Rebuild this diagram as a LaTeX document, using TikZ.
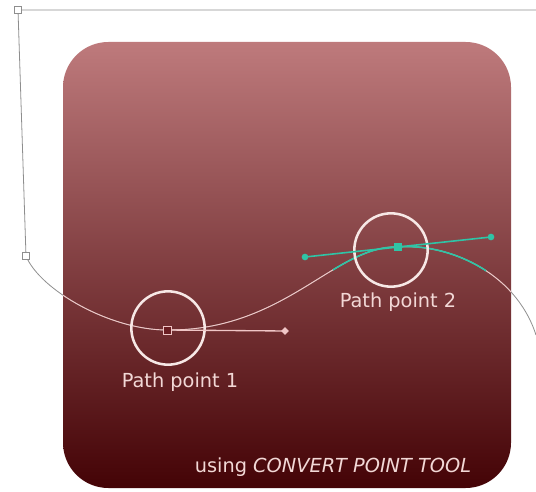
\documentclass[tikz,border=0pt]{standalone}
\usepackage{fontspec}
\setmainfont{DejaVu Sans}
\usepackage{tikz}
\definecolor{boxTop}{HTML}{BE7A7C}
\definecolor{boxBottom}{HTML}{440306}
\definecolor{pathGrey}{HTML}{8E8E8E}
\definecolor{pathPink}{HTML}{F0C6C6}
\definecolor{ringWhite}{HTML}{F7E8E6}
\definecolor{handleCyan}{HTML}{2FC4A6}
\definecolor{labelPink}{HTML}{F2D8D6}
\definecolor{holeRed}{HTML}{6A1E22}

\begin{document}
\begin{tikzpicture}[x=0.75pt, y=-0.75pt]
        \tikzstyle{ringStyle} = [circle, draw=ringWhite, line width=1.9pt, minimum size=55pt, inner sep=0pt]
        \tikzstyle{labelStyle} = [text=labelPink, font=\fontsize{14.5}{17}\selectfont, inner sep=0pt]
        \tikzstyle{greySquare} = [rectangle, draw=pathGrey, fill=white, line width=0.6pt, minimum size=5pt, inner sep=0pt]
        \tikzstyle{pinkSquare} = [rectangle, draw=pathPink, fill=holeRed, line width=0.7pt, minimum size=6pt, inner sep=0pt]
        \tikzstyle{cyanSquare} = [rectangle, fill=handleCyan, minimum size=6pt, inner sep=0pt]
        \tikzstyle{cyanDot} = [circle, fill=handleCyan, minimum size=5pt, inner sep=0pt]
        \tikzstyle{pinkDiamond} = [rectangle, fill=pathPink, rotate=45, minimum size=4pt, inner sep=0pt]
        \useasboundingbox (0,0) rectangle (536,492);
        \shade[top color=boxTop, bottom color=boxBottom, rounded corners=34pt] (63,42) rectangle (511,488);
        \coordinate (topRight) at (536,10);
        \coordinate (corner) at (18,10);
        \coordinate (start) at (26,256);
        \coordinate (s1) at (40,290);
        \coordinate (s2) at (110,330);
        \coordinate (p1) at (167,330);
        \coordinate (h1) at (285,331);
        \coordinate (h2a) at (305,257);
        \coordinate (p2) at (398,247);
        \coordinate (h2b) at (491,237);
        \coordinate (c2a) at (335,245);
        \coordinate (c2b) at (445,243);
        \coordinate (e2) at (515,270);
        \coordinate (exit) at (536,335);
        \def\curvePath{(start) .. controls (s1) and (s2) .. (p1)
            .. controls (h1) and (c2a) .. (p2)
            .. controls (c2b) and (e2) .. (exit)}
        % the path outside and inside the box
        \draw[pathGrey, line width=0.6pt] (topRight) -- (corner) -- \curvePath;
        \begin{scope}
            \clip[rounded corners=34pt] (63,42) rectangle (511,488);
            \draw[pathPink, line width=0.7pt] \curvePath;
        \end{scope}
        \begin{scope}
            \clip (333,220) rectangle (486,280);
            \draw[handleCyan, line width=1.2pt] \curvePath;
        \end{scope}
        \node[ringStyle] (ring1) at (168,328) {};
        \node[ringStyle] (ring2) at (391,250) {};
        % handles
        \draw[pathPink, line width=1pt] (p1) -- (h1);
        \draw[handleCyan, line width=1.2pt] (h2a) -- (h2b);
        \node[pinkDiamond] (tip1) at (h1) {};
        \foreach \h in {h2a,h2b}
            \node[cyanDot] (dot-\h) at (\h) {};
        \node[greySquare] (sqCorner) at (corner) {};
        \node[greySquare] (sqStart) at (start) {};
        \node[pinkSquare] (sq1) at (p1) {};
        \node[cyanSquare] (sq2) at (p2) {};
        \node[labelStyle] (label1) at (180,382) {Path point 1};
        \node[labelStyle] (label2) at (398,302) {Path point 2};
        \node[labelStyle] (toolNote) at (333,467) {using \textit{CONVERT POINT TOOL}};
\end{tikzpicture}
\end{document}
